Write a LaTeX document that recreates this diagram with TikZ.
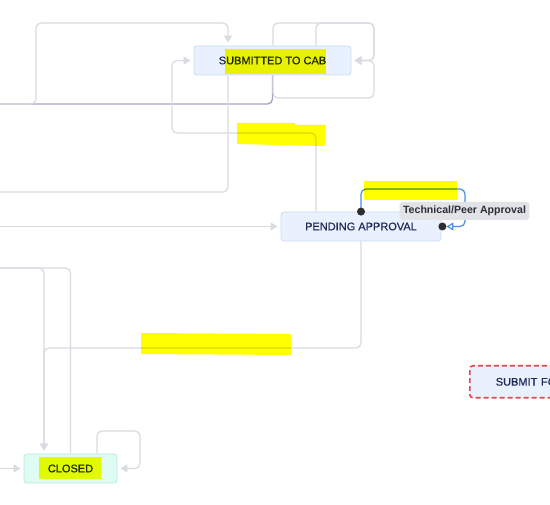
\documentclass[tikz,border=0pt]{standalone}
\usepackage{fontspec}
\setmainfont{Liberation Sans}
\newfontfamily\nodefont[FakeBold=0.35]{Liberation Sans}
\usetikzlibrary{arrows.meta}
\definecolor{nodefill}{HTML}{E8F1FD}
\definecolor{nodeborder}{HTML}{C8DCF6}
\definecolor{nodetext}{HTML}{1F2A56}
\definecolor{closedfill}{HTML}{E0FBF4}
\definecolor{closedborder}{HTML}{B3EDD9}
\definecolor{dashred}{HTML}{E04A4A}
\definecolor{edgegray}{HTML}{D9DBE1}
\definecolor{darkedge}{HTML}{A4A7BE}
\definecolor{blueedge}{HTML}{4A8FE7}
\definecolor{dotc}{HTML}{2E2E2E}
\definecolor{lblgray}{HTML}{E1E3E7}
\definecolor{lbltext}{HTML}{2B2F3A}
\definecolor{hilite}{HTML}{FFFF00}
\tikzset{
  state/.style={draw=nodeborder, fill=nodefill, rounded corners=3pt, line width=0.8pt,
    inner sep=0pt, font=\nodefont\fontsize{11}{13}\selectfont, text=nodetext},
  edge/.style={draw=edgegray, line width=1.2pt, rounded corners=5pt},
  arr/.style={-{Triangle[length=7pt,width=8pt]}, shorten >=3pt},
  loopedge/.style={draw=blueedge, line width=1.2pt, rounded corners=5pt,
    -{Triangle[open,length=7pt,width=8pt]}, shorten >=5pt},
  lbl/.style={fill=lblgray, rounded corners=3pt, inner xsep=3.5pt, inner ysep=0pt,
    minimum height=18pt, text=lbltext, font=\bfseries\fontsize{10.6}{12}\selectfont},
  handle/.style={fill=dotc}
}
\begin{document}
\begin{tikzpicture}[x=1pt,y=-1pt]
\useasboundingbox (0,0) rectangle (550,505);
\clip (0,0) rectangle (550,505);
\fill[white] (0,0) rectangle (550,505);

% free ends
\coordinate (lw1) at (0,104);
\coordinate (lw3) at (0,192);
\coordinate (lw6) at (0,226.5);
\coordinate (lw9) at (0,268);
\coordinate (lw11) at (0,468.5);

% nodes
\node[state, minimum width=157pt, minimum height=29pt] (sub) at (272.5,60.5) {SUBMITTED TO CAB};
\node[state, minimum width=160pt, minimum height=29pt] (pend) at (361,226.5) {PENDING APPROVAL};
\node[state, fill=closedfill, draw=closedborder, minimum width=93pt, minimum height=29pt] (closed) at (70.5,468.5) {CLOSED};
\node[state, draw=dashred, line width=1.6pt, dash pattern=on 5pt off 3pt, anchor=north west,
  minimum height=32pt, text width=108pt, inner xsep=26pt, align=left] (sfa) at (469,365) {SUBMIT FOR};

% edges around SUBMITTED TO CAB
\draw[edge, draw=darkedge, line width=1.4pt] (sub.south) |- (lw1);
\draw[edge, arr] (lw1) -| (36,23) -| ([xshift=-44.5pt]sub.north);
\draw[edge] ([xshift=-44.5pt]sub.south) |- (lw3);
\draw[edge, arr] ([xshift=-45pt]pend.north) |- (172,133) |- (sub.west);
\draw[edge, arr] ([xshift=0.5pt]sub.north) |- (374,23) |- (sub.east);
\draw[edge, arr] ([xshift=43.5pt]sub.north) |- (374,23) |- (sub.east);
\draw[edge, arr] ([xshift=0.5pt]sub.south) |- (374,98) |- (sub.east);

% edges around PENDING APPROVAL
\draw[edge, arr] (lw6) -- (pend.west);
\draw[loopedge] (pend.north) |- (465,189) |- (pend.east);
\fill[handle] (pend.north) circle (4pt);
\fill[handle] ([xshift=1pt]pend.east) circle (4pt);
\node[lbl] (tl) at (464.5,211) {Technical/Peer Approval};
\draw[edge, arr] (pend.south) |- (44,348) -- ([xshift=-26.5pt]closed.north);

% edges around CLOSED
\draw[edge, arr] (lw9) -| ([xshift=-26.5pt]closed.north);
\draw[edge] (closed.north) |- (lw9);
\draw[edge, arr] (lw11) -- (closed.west);
\draw[edge, arr] ([xshift=26.5pt]closed.north) |- (140,431) |- (closed.east);

% highlighter marks
\begin{scope}[blend mode=multiply]
\fill[hilite] (225,49) rectangle (326,74);
\fill[hilite] (237,123) -- (295,123) -- (295,125) -- (325,125) -- (325,146) -- (237,144) -- cycle;
\fill[hilite] (364,181) rectangle (457,200);
\fill[hilite] (141,333) -- (291,334) -- (291,355) -- (141,354) -- cycle;
\fill[hilite] (39,457) rectangle (101,479);
\end{scope}
\end{tikzpicture}
\end{document}
